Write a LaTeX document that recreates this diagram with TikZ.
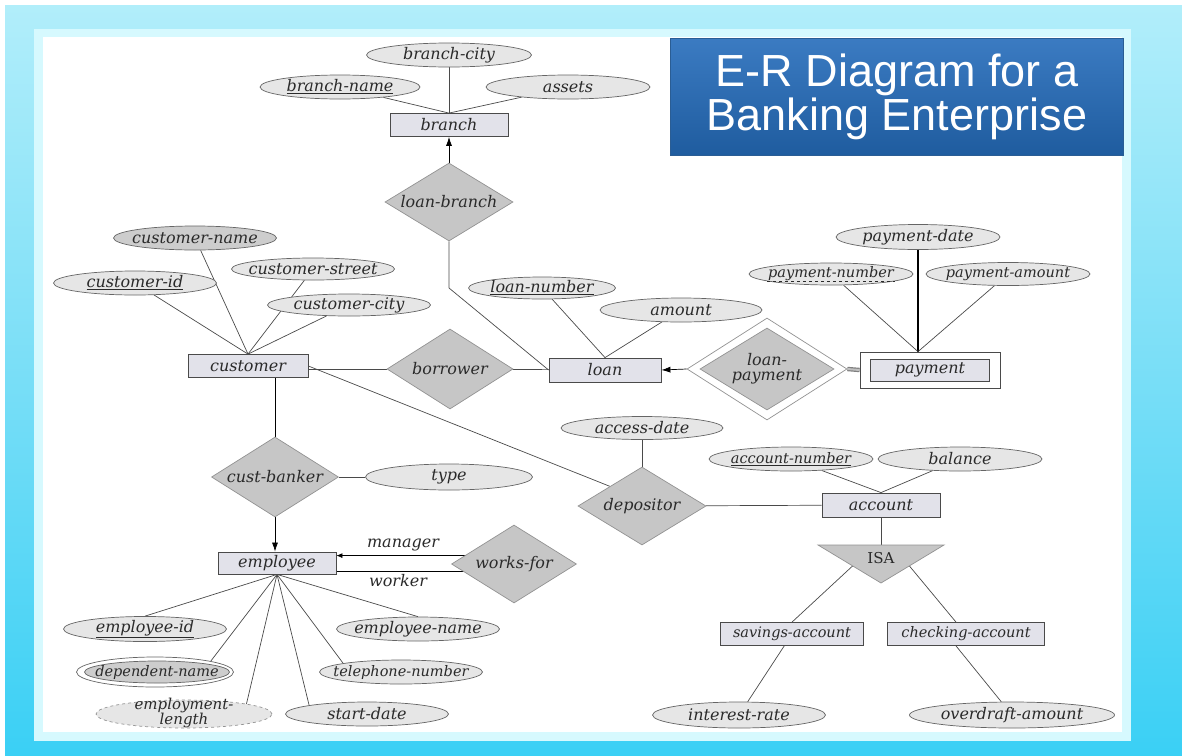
\documentclass[tikz,border=0pt]{standalone}
\usepackage{fontspec}
\setmainfont{DejaVu Serif}
\newfontfamily\titlefont{Liberation Sans}
\usetikzlibrary{shapes.geometric,arrows.meta,calc}
\pgfdeclarelayer{back}
\pgfdeclarelayer{lines}
\pgfsetlayers{back,lines,main}
\definecolor{bgA}{HTML}{12C4F2}
\definecolor{bgB}{HTML}{2ECDF4}
\definecolor{bgC}{HTML}{78DEF7}
\definecolor{bgD}{HTML}{BDF1FB}
\definecolor{bgE}{HTML}{DBFCFF}
\definecolor{bgF}{HTML}{E4FEFF}
\definecolor{glow}{HTML}{D6F9FE}
\definecolor{titleA}{HTML}{3B7BC2}
\definecolor{titleB}{HTML}{1F5C9F}
\definecolor{titleEdge}{HTML}{2A5D94}
\definecolor{entfill}{HTML}{E2E2EA}
\definecolor{attfill}{HTML}{E6E6E6}
\definecolor{darkatt}{HTML}{CDCDCD}
\definecolor{relfill}{HTML}{C6C6C6}
\definecolor{edge}{HTML}{4A4A4A}
\definecolor{txt}{HTML}{2A2A2A}
\pgfdeclareverticalshading{bgshade}{100bp}{color(0bp)=(bgA); color(20bp)=(bgB); color(50bp)=(bgC); color(80bp)=(bgD); color(92bp)=(bgE); color(100bp)=(bgF)}
\newcommand{\zw}[1]{\makebox[0pt]{#1}}
\tikzset{
  er/.style={font=\fontsize{16}{18}\selectfont\itshape, text=txt, inner sep=0pt},
  ersmall/.style={font=\fontsize{14.5}{16}\selectfont\itshape},
  entity/.style={er, rectangle, draw=edge, fill=entfill, line width=0.8pt, minimum height=23pt},
  attr/.style={er, ellipse, draw=edge!85, fill=attfill, line width=0.7pt, minimum height=24pt, minimum width=163pt},
  erel/.style={er, diamond, draw=edge!60, fill=relfill, line width=0.7pt, minimum width=127pt, minimum height=79pt},
  conn/.style={draw=edge, line width=0.7pt},
  arr/.style={conn, draw=black, -{Latex[length=9pt,width=6pt]}},
  dbl/.style={draw=edge!70, double=edge!35, double distance=2pt, line width=1.2pt},
  titlebox/.style={rectangle, minimum width=453pt, minimum height=117pt, inner sep=0pt,
    top color=titleA, bottom color=titleB, draw=titleEdge, text=white, align=center,
    font=\titlefont\fontsize{45}{44}\selectfont},
  lbl/.style={er}
}
\begin{document}
\begin{tikzpicture}[x=1pt,y=-1pt]
\useasboundingbox (0,0) rectangle (1182,755);
\begin{pgfonlayer}{back}
  \fill[white] (0,0) rectangle (1182,755);
  \shade[shading=bgshade] (5,5) rectangle (1182,755);
  \fill[glow] (34,29) rectangle (1131,741);
  \fill[white] (43,37) rectangle (1122,732);
\end{pgfonlayer}

% title
\node[titlebox] (title) at (897,96.5) {E-R Diagram for a\\Banking Enterprise};

% branch
\node[attr, minimum width=165pt] (branchcity) at (449,55) {\zw{branch-city}};
\node[attr, minimum width=160pt] (branchname) at (340,87) {\zw{\underline{branch-name}}};
\node[attr, minimum width=164pt] (assets) at (568,87) {\zw{assets}};
\node[entity, minimum width=118pt] (branch) at (449,125) {branch};
\node[erel, minimum width=128pt, minimum height=78pt] (loanbranch) at (449,202) {\zw{loan-branch}};
\coordinate (lbbend) at (449,288);

% customer
\node[attr, fill=darkatt] (customername) at (195,238) {\zw{customer-name}};
\node[attr, minimum height=22pt] (customerstreet) at (313,269) {\zw{customer-street}};
\node[attr] (customerid) at (135,283) {\zw{\underline{customer-id}}};
\node[attr, minimum height=22pt] (customercity) at (349,305) {\zw{customer-city}};
\node[entity, minimum width=120pt] (customer) at (248,366) {customer};
\node[erel, minimum width=126pt, minimum height=80pt] (borrower) at (450,369) {\zw{borrower}};

% loan
\node[attr, minimum width=147pt, minimum height=22pt] (loannumber) at (542,288) {\zw{\underline{loan-number}}};
\node[attr, minimum width=162pt] (amount) at (681,310) {\zw{amount}};
\node[entity, minimum width=112pt, minimum height=24pt] (loan) at (605,370) {loan};

% loan-payment (weak relationship)
\node[diamond, draw=edge!60, fill=white, line width=0.7pt, minimum width=160pt, minimum height=102pt, inner sep=0pt] (lpout) at (767,369) {};
\node[erel, minimum width=134pt, minimum height=82pt] (lpin) at (767,369) {\zw{\shortstack{loan-\\[1pt]payment}}};

% payment (weak entity)
\node[rectangle, draw=edge, fill=white, line width=0.8pt, minimum width=140pt, minimum height=36pt] (paymentout) at (930,370) {};
\node[entity, minimum width=119pt, minimum height=22pt] (payment) at (930,370) {payment};
\node[attr, minimum width=164pt, minimum height=25pt] (paymentdate) at (918,237) {\zw{payment-date}};
\node[attr, ersmall, minimum width=164pt, minimum height=22pt] (paymentnumber) at (831,274) {\zw{payment-number}};
\node[attr, ersmall, minimum width=164pt, minimum height=23pt] (paymentamount) at (1008,274) {\zw{payment-amount}};
\coordinate (pjoin) at (paymentdate.south |- paymentout.north);
\draw[dashed, txt, line width=0.6pt] ($(paymentnumber.center)+(-64,7)$) -- ($(paymentnumber.center)+(64,7)$);

% cust-banker, employee
\node[erel, minimum width=127pt, minimum height=80pt] (custbanker) at (275,477) {\zw{cust-banker}};
\node[attr, minimum width=167pt, minimum height=26pt] (type) at (449,477) {\zw{type}};
\node[entity, minimum width=118pt, minimum height=22pt] (employee) at (277,563) {employee};
\node[erel, minimum width=125pt, minimum height=78pt] (worksfor) at (514,564) {\zw{works-for}};
\coordinate (mgr) at ($(employee.north east)+(0,4)$);
\coordinate (wkr) at ($(employee.south east)+(0,-3)$);
\node[lbl] (mgrlabel) at (403,545) {manager};
\node[lbl] (wkrlabel) at (398,581) {worker};

\node[attr, minimum height=22pt] (employeeid) at (145,629) {\zw{\underline{employee-id}}};
\node[attr, minimum width=157pt, minimum height=30pt, fill=white] (depout) at (155,672) {};
\node[attr, ersmall, minimum width=145pt, minimum height=22pt, fill=darkatt] (dependentname) at (157,672) {\zw{dependent-name}};
\node[attr, dashed, draw=edge!60, minimum width=176pt, minimum height=28pt] (emplength) at (184,714) {};
\node[er, font=\fontsize{15}{12}\selectfont\itshape] (emplengthtext) at (184,713) {\shortstack{employment-\\[-3pt]length}};
\node[attr] (startdate) at (367,714) {\zw{start-date}};
\node[attr, ersmall] (telephonenumber) at (401,672) {\zw{telephone-number}};
\node[attr] (employeename) at (418,629) {\zw{employee-name}};

% depositor, account
\node[attr, minimum width=162pt, minimum height=23pt] (accessdate) at (642,428) {\zw{access-date}};
\node[erel, minimum width=128pt, minimum height=78pt] (depositor) at (642,506) {\zw{depositor}};
\node[entity, minimum width=118pt, minimum height=24pt] (account) at (881,505) {account};
\node[attr, ersmall, minimum width=164pt] (accountnumber) at (791,459) {\zw{\underline{account-number}}};
\node[attr, minimum width=164pt] (balance) at (960,459) {\zw{balance}};

% ISA
\coordinate (isatl) at (818,545);
\coordinate (isatr) at (944,545);
\coordinate (isab) at (881,583);
\coordinate (isatop) at ($(isatl)!0.5!(isatr)$);
\coordinate (isal) at ($(isatl)!0.55!(isab)$);
\coordinate (isar) at ($(isatr)!0.55!(isab)$);
\filldraw[fill=relfill, draw=edge!60, line width=0.7pt] (isatl) -- (isatr) -- (isab) -- cycle;
\node[font=\fontsize{15}{15}\selectfont, text=txt, inner sep=0pt] (isa) at (881,558) {ISA};

\node[entity, ersmall, minimum width=143pt] (savings) at (792,634) {savings-account};
\node[entity, ersmall, minimum width=157pt] (checking) at (966,634) {checking-account};
\node[attr, minimum width=173pt, minimum height=26pt] (interestrate) at (739,715) {\zw{interest-rate}};
\node[attr, minimum width=205pt, minimum height=26pt] (overdraft) at (1012,715) {\zw{overdraft-amount}};

% connectors
\begin{pgfonlayer}{lines}
  \draw[conn] (branchcity) -- (branch.north);
  \draw[conn] (branchname) -- (branch.north);
  \draw[conn] (assets) -- (branch.north);
  \draw[arr] (loanbranch) -- (branch);
  \draw[conn] (loanbranch) -- (lbbend) -- (loan.west);

  \draw[conn] (customername) -- (customer.north);
  \draw[conn] (customerstreet) -- (customer.north);
  \draw[conn] (customerid) -- (customer.north);
  \draw[conn] (customercity) -- (customer.north);
  \draw[conn] (customer.east |- borrower) -- (borrower);
  \draw[conn] (borrower) -- (loan);
  \draw[conn] (customer.east) -- (depositor.north west);

  \draw[conn] (loannumber) -- (loan.north);
  \draw[conn] (amount) -- (loan.north);
  \draw[arr] (lpout.west) -- (loan.east);
  \draw[dbl] (lpout.east) -- (paymentout.west);
  \draw[draw=black, line width=1.8pt] (paymentdate) -- (pjoin);
  \draw[conn] (paymentnumber) -- (pjoin);
  \draw[conn] (paymentamount) -- (pjoin);

  \draw[conn, draw=black] (custbanker.north |- customer.south) -- (custbanker);
  \draw[conn] (custbanker) -- (type);
  \draw[arr] (custbanker) -- (custbanker.south |- employee.north);
  \draw[conn, draw=black, -{Latex[length=6pt,width=5pt]}] (worksfor.center |- mgr) -- (mgr);
  \draw[conn, draw=black] (worksfor.center |- wkr) -- (wkr);

  \draw[conn] (employeeid.north) -- (employee.south);
  \draw[conn] (depout.north east) -- (employee.south);
  \draw[conn] (emplength.north east) -- (employee.south);
  \draw[conn] (startdate.north west) -- (employee.south);
  \draw[conn] (telephonenumber.north west) -- (employee.south);
  \draw[conn] (employeename.north) -- (employee.south);

  \draw[conn] (accessdate) -- (depositor);
  \draw[conn] (depositor) -- (account);
  \draw[conn] (accountnumber) -- (account.north);
  \draw[conn] (balance) -- (account.north);
  \draw[conn] (account) -- (isatop);
  \draw[conn] (isal) -- (savings.north);
  \draw[conn] (isar) -- ($(checking.north)+(-10,0)$);
  \draw[conn] (savings) -- (interestrate);
  \draw[conn] ($(checking.south)+(-10,0)$) -- (overdraft);
\end{pgfonlayer}
\end{tikzpicture}
\end{document}
